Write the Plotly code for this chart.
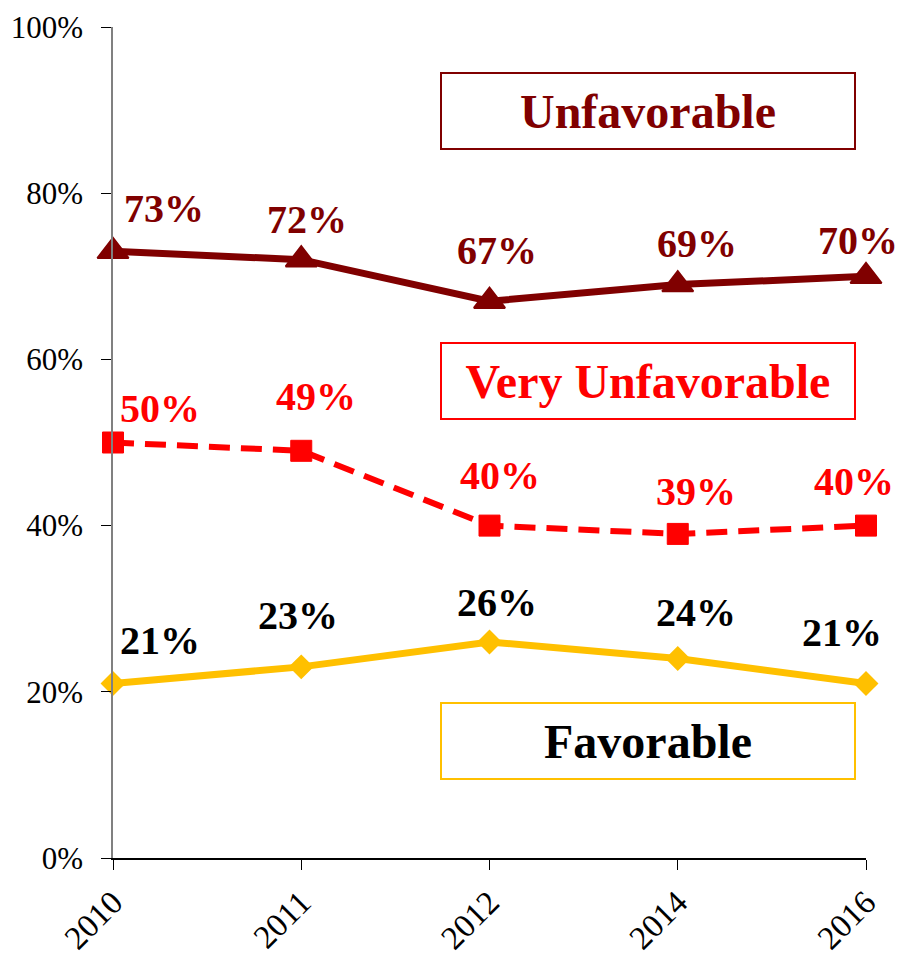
import plotly.graph_objects as go

years = ["2010", "2011", "2012", "2014", "2016"]
unfavorable = [73, 72, 67, 69, 70]
very_unfavorable = [50, 49, 40, 39, 40]
favorable = [21, 23, 26, 24, 21]
y_ticks = [0, 20, 40, 60, 80, 100]
y_tick_text = ["0%", "20%", "40%", "60%", "80%", "100%"]

# label offsets in px (x, y-up)
unf_off = [(51, 43), (6, 40), (7, 51), (19, 41), (-8, 36)]
vun_off = [(47, 34), (15, 54), (10, 50), (18, 42), (-12, 44)]
fav_off = [(47, 43), (-3, 51), (7, 39), (18, 46), (-24, 51)]

C_UNF = "#800000"
C_VUN = "#FF0000"
C_FAV = "#FFC000"
FONT = "Liberation Serif"

fig = go.Figure()
fig.add_trace(go.Scatter(x=years, y=unfavorable, mode="lines+markers", cliponaxis=False,
                         line=dict(color=C_UNF, width=7),
                         marker=dict(symbol="triangle-up", size=27, color=C_UNF,
                                     line=dict(color=C_UNF, width=2))))
fig.add_trace(go.Scatter(x=years, y=very_unfavorable, mode="lines+markers", cliponaxis=False,
                         line=dict(color=C_VUN, width=6, dash="21px,11px"),
                         marker=dict(symbol="square", size=21, color=C_VUN,
                                     line=dict(color=C_VUN, width=1))))
fig.add_trace(go.Scatter(x=years, y=favorable, mode="lines+markers", cliponaxis=False,
                         line=dict(color=C_FAV, width=7),
                         marker=dict(symbol="diamond", size=17, color=C_FAV,
                                     line=dict(color=C_FAV, width=2))))

annotations = []
for vals, offs, txtcol in [(unfavorable, unf_off, C_UNF),
                           (very_unfavorable, vun_off, C_VUN),
                           (favorable, fav_off, "#000000")]:
    for i, (v, (dx, dy)) in enumerate(zip(vals, offs)):
        annotations.append(dict(x=i, y=v, xref="x", yref="y", text=f"<b>{v}%</b>", showarrow=False,
                                xshift=dx, yshift=dy, xanchor="center", yanchor="middle",
                                font=dict(family=FONT, size=40, color=txtcol)))

for text, col, txtcol, yp in [("Unfavorable", C_UNF, C_UNF, 0.899),
                              ("Very Unfavorable", C_VUN, C_VUN, 0.574),
                              ("Favorable", C_FAV, "#000000", 0.141)]:
    annotations.append(dict(x=0.7105, y=yp, xref="paper", yref="paper", text=f"<b>{text}</b>",
                            showarrow=False, xanchor="center", yanchor="middle",
                            width=412, height=74, borderwidth=2, bordercolor=col, borderpad=0,
                            font=dict(family=FONT, size=48, color=txtcol)))

fig.update_layout(
    width=896, height=950,
    margin=dict(l=105, r=38, t=19, b=100),
    plot_bgcolor="white", paper_bgcolor="white",
    showlegend=False,
    annotations=annotations,
    font=dict(family=FONT, size=30, color="black"),
    xaxis=dict(type="category", range=[0, 4], showgrid=False, showline=True, automargin=False,
               linecolor="black", linewidth=1.5, ticks="outside", ticklen=10,
               tickcolor="black", tickangle=-45, tickfont=dict(family=FONT, size=33)),
    yaxis=dict(range=[0, 100], tickmode="array", tickvals=y_ticks, ticktext=y_tick_text,
               showgrid=False, showline=True, linecolor="#808080", linewidth=1.5, automargin=False,
               ticks="outside", ticklen=10, tickcolor="black", zeroline=False,
               tickfont=dict(family=FONT, size=31), ticklabelstandoff=12),
)

fig.write_html("out.html")
